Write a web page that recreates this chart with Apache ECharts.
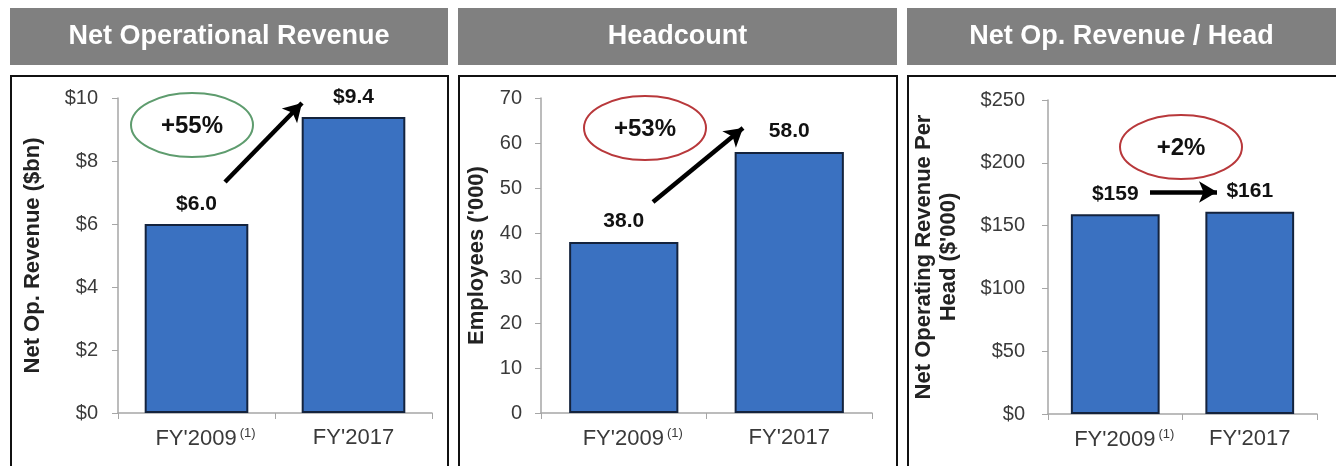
<!DOCTYPE html>
<html>
<head>
<meta charset="utf-8">
<script src="https://cdn.jsdelivr.net/npm/echarts@6/dist/echarts.min.js"></script>
<style>
  html, body { margin: 0; padding: 0; background: #fff; }
  #chart { width: 1336px; height: 466px; }
</style>
</head>
<body>
<div id="chart"></div>
<script>
const categories = ["FY'2009", "FY'2017"]
const revenue = [6.0, 9.4]
const headcount = [38.0, 58.0]
const revPerHead = [159, 161]
const panelTitles = ['Net Operational Revenue', 'Headcount', 'Net Op. Revenue / Head']
const changeLabels = ['+55%', '+53%', '+2%']

const FONT = '"Liberation Sans", Arial, sans-serif'
const BAR = '#3a71c1'
const AXIS = '#a6a6a6'

const chart = echarts.init(document.getElementById('chart'))

const grids = [
  { left: 118, top: 98, width: 314, height: 315 },
  { left: 541, top: 98, width: 331, height: 315 },
  { left: 1048, top: 100, width: 269, height: 314 }
]

function catAxis(i) {
  return {
    type: 'category',
    gridIndex: i,
    data: categories,
    axisLine: { lineStyle: { color: AXIS, width: 1.5 } },
    axisTick: { show: true, length: 6, lineStyle: { color: AXIS } },
    axisLabel: {
      interval: 0,
      hideOverlap: false,
      color: '#3a3a3a',
      fontFamily: FONT,
      fontSize: 22,
      margin: 14,
      // the footnote mark hangs off the right, so pad the left to keep the year centred
      formatter: (v, idx) => idx === 0 ? '{pad|}' + v + '{sup|(1)}' : v,
      rich: {
        pad: { width: 18 },
        sup: { fontSize: 13, verticalAlign: 'top', padding: [0, 0, 10, 3], fontFamily: FONT, color: '#3a3a3a' }
      }
    }
  }
}

function valAxis(i, max, interval, fmt, name, nameGap, margin) {
  return {
    type: 'value',
    gridIndex: i,
    min: 0,
    max: max,
    interval: interval,
    name: name,
    nameLocation: 'middle',
    nameGap: nameGap,
    nameTextStyle: { fontFamily: FONT, fontSize: 22, fontWeight: 'bold', color: '#222', lineHeight: 25 },
    splitLine: { show: false },
    axisLine: { show: true, lineStyle: { color: AXIS, width: 1.5 } },
    axisTick: { show: true, length: 6, lineStyle: { color: AXIS } },
    axisLabel: { color: '#3a3a3a', fontFamily: FONT, fontSize: 20, margin: margin, formatter: fmt }
  }
}

function barSeries(i, data, fmt, distance, arrow) {
  return {
    type: 'bar',
    xAxisIndex: i,
    yAxisIndex: i,
    data: data,
    barWidth: '66%',
    itemStyle: { color: BAR, borderColor: '#14233d', borderWidth: 2 },
    label: {
      show: true,
      position: 'top',
      distance: distance,
      formatter: p => fmt(p.value),
      fontFamily: FONT,
      fontSize: 21,
      fontWeight: 'bold',
      color: '#111'
    },
    markLine: {
      silent: true,
      symbol: ['none', 'arrow'],
      symbolSize: [16, 18],
      label: { show: false },
      lineStyle: { color: '#000', width: 4.5, type: 'solid' },
      data: [arrow]
    }
  }
}

function header(x, w, text) {
  return {
    type: 'group',
    children: [
      { type: 'rect', shape: { x: x, y: 8, width: w, height: 57 }, style: { fill: '#808080' } },
      {
        type: 'text', x: x + w / 2, y: 37,
        style: { text: text, fill: '#fff', font: 'bold 27px ' + FONT, align: 'center', verticalAlign: 'middle' }
      }
    ]
  }
}

function frame(x, w) {
  return { type: 'rect', shape: { x: x, y: 76, width: w, height: 400 }, style: { fill: 'none', stroke: '#111', lineWidth: 2 } }
}

function ellipse(cx, cy, color, text) {
  return {
    type: 'group',
    children: [
      { type: 'ellipse', shape: { cx: cx, cy: cy, rx: 61, ry: 32 }, style: { fill: 'none', stroke: color, lineWidth: 2 } },
      { type: 'text', x: cx, y: cy + 1, style: { text: text, fill: '#111', font: 'bold 24px ' + FONT, align: 'center', verticalAlign: 'middle' } }
    ]
  }
}

const option = {
  animation: false,
  grid: grids,
  xAxis: [catAxis(0), catAxis(1), catAxis(2)],
  yAxis: [
    valAxis(0, 10, 2, v => '$' + v, 'Net Op. Revenue ($bn)', 73, 20),
    valAxis(1, 70, 10, v => String(v), "Employees ('000)", 52, 19),
    valAxis(2, 250, 50, v => '$' + v, "Net Operating Revenue Per\nHead ($'000)", 87, 23)
  ],
  series: [
    barSeries(0, revenue, v => '$' + v.toFixed(1), 9, [{ x: 225, y: 182 }, { x: 302, y: 103 }]),
    barSeries(1, headcount, v => v.toFixed(1), 10, [{ x: 653, y: 202 }, { x: 743, y: 128 }]),
    barSeries(2, revPerHead, v => '$' + v, 10, [{ x: 1150, y: 192 }, { x: 1217, y: 192 }])
  ],
  graphic: [
    header(10, 438, panelTitles[0]),
    header(458, 439, panelTitles[1]),
    header(907, 429, panelTitles[2]),
    frame(11, 437),
    frame(459, 438),
    frame(908, 440),
    ellipse(192, 125, '#5e9c6e', changeLabels[0]),
    ellipse(645, 128, '#b8383b', changeLabels[1]),
    ellipse(1181, 147, '#b8383b', changeLabels[2])
  ]
}

chart.setOption(option)
</script>
</body>
</html>
